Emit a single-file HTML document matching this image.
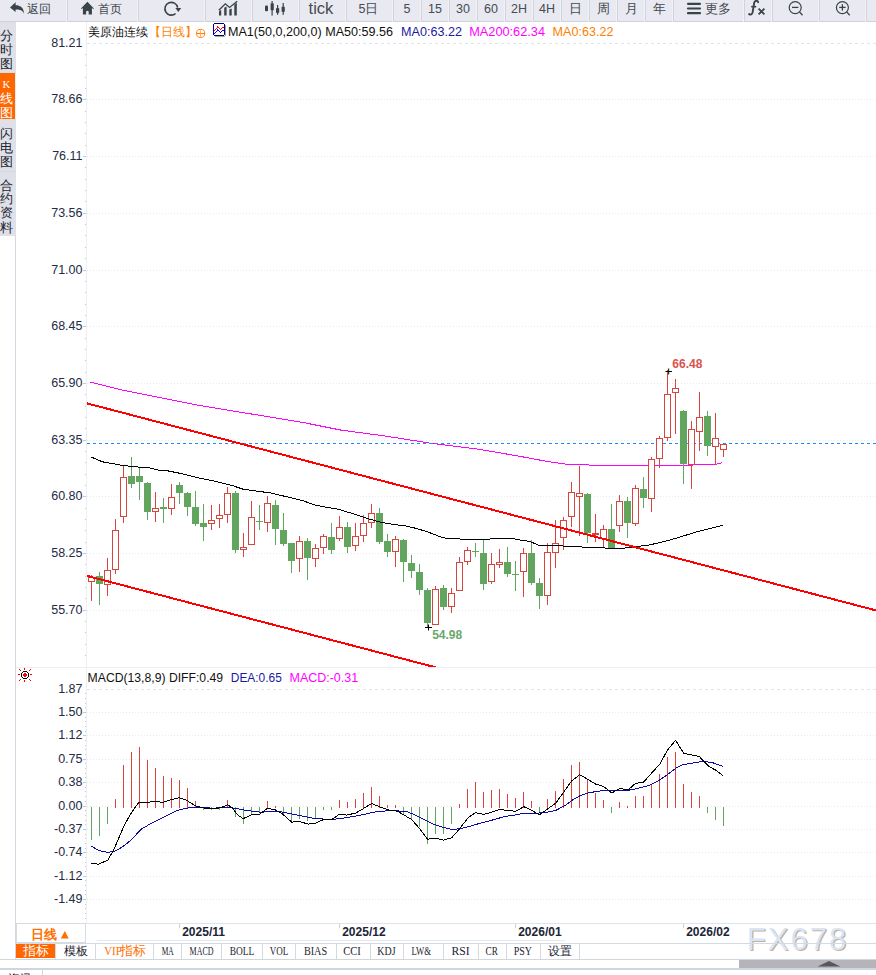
<!DOCTYPE html><html><head><meta charset="utf-8"><style>
*{margin:0;padding:0;box-sizing:border-box}
html,body{width:876px;height:975px;overflow:hidden;background:#fff;font-family:"Liberation Sans", sans-serif}
svg{position:absolute;left:0;top:0;display:block}
text{font-family:"Liberation Sans", sans-serif}
</style></head><body><svg width="876" height="975" viewBox="0 0 876 975"><rect x="0" y="0" width="876" height="21" fill="#e9e9f1"/><rect x="0" y="21" width="876" height="1" fill="#cfd0d8"/><rect x="67" y="0" width="1" height="22" fill="#d3d3dc"/><rect x="66" y="0" width="1" height="22" fill="#f1f1f6"/><rect x="138" y="0" width="1" height="22" fill="#d3d3dc"/><rect x="137" y="0" width="1" height="22" fill="#f1f1f6"/><rect x="205" y="0" width="1" height="22" fill="#d3d3dc"/><rect x="204" y="0" width="1" height="22" fill="#f1f1f6"/><rect x="252" y="0" width="1" height="22" fill="#d3d3dc"/><rect x="251" y="0" width="1" height="22" fill="#f1f1f6"/><rect x="299" y="0" width="1" height="22" fill="#d3d3dc"/><rect x="298" y="0" width="1" height="22" fill="#f1f1f6"/><rect x="346" y="0" width="1" height="22" fill="#d3d3dc"/><rect x="345" y="0" width="1" height="22" fill="#f1f1f6"/><rect x="393" y="0" width="1" height="22" fill="#d3d3dc"/><rect x="392" y="0" width="1" height="22" fill="#f1f1f6"/><rect x="421" y="0" width="1" height="22" fill="#d3d3dc"/><rect x="420" y="0" width="1" height="22" fill="#f1f1f6"/><rect x="449" y="0" width="1" height="22" fill="#d3d3dc"/><rect x="448" y="0" width="1" height="22" fill="#f1f1f6"/><rect x="477" y="0" width="1" height="22" fill="#d3d3dc"/><rect x="476" y="0" width="1" height="22" fill="#f1f1f6"/><rect x="505" y="0" width="1" height="22" fill="#d3d3dc"/><rect x="504" y="0" width="1" height="22" fill="#f1f1f6"/><rect x="533" y="0" width="1" height="22" fill="#d3d3dc"/><rect x="532" y="0" width="1" height="22" fill="#f1f1f6"/><rect x="561" y="0" width="1" height="22" fill="#d3d3dc"/><rect x="560" y="0" width="1" height="22" fill="#f1f1f6"/><rect x="589" y="0" width="1" height="22" fill="#d3d3dc"/><rect x="588" y="0" width="1" height="22" fill="#f1f1f6"/><rect x="617" y="0" width="1" height="22" fill="#d3d3dc"/><rect x="616" y="0" width="1" height="22" fill="#f1f1f6"/><rect x="645" y="0" width="1" height="22" fill="#d3d3dc"/><rect x="644" y="0" width="1" height="22" fill="#f1f1f6"/><rect x="673" y="0" width="1" height="22" fill="#d3d3dc"/><rect x="672" y="0" width="1" height="22" fill="#f1f1f6"/><rect x="744" y="0" width="1" height="22" fill="#d3d3dc"/><rect x="743" y="0" width="1" height="22" fill="#f1f1f6"/><rect x="772" y="0" width="1" height="22" fill="#d3d3dc"/><rect x="771" y="0" width="1" height="22" fill="#f1f1f6"/><rect x="819" y="0" width="1" height="22" fill="#d3d3dc"/><rect x="818" y="0" width="1" height="22" fill="#f1f1f6"/><rect x="866" y="0" width="1" height="22" fill="#d3d3dc"/><rect x="865" y="0" width="1" height="22" fill="#f1f1f6"/><path d="M10 7.4 L15.6 2.2 L15.6 5.2 C20.5 5.2 24 7.8 23.9 13.8 C22.9 11 21 9.6 15.6 9.6 L15.6 12 Z" fill="#3a424a"/><text x="26.5" y="13.3" font-size="12" fill="#3a424a">返回</text><path d="M80.9 8.4 L87.4 1.8 L93.9 8.4 L93.1 9.1 L91.9 8 L91.9 14.6 L88.7 14.6 L88.7 11.6 Q87.4 10 86.1 11.6 L86.1 14.6 L82.9 14.6 L82.9 8 L81.7 9.1 Z" fill="#3a424a"/><text x="97.5" y="13.3" font-size="12" fill="#3a424a">首页</text><path d="M177.6 7.6 A6.4 6.4 0 1 0 175.6 13.5" fill="none" stroke="#3a424a" stroke-width="1.6"/><path d="M175.4 7.9 L181.2 7.9 L178.3 11.9 Z" fill="#3a424a"/><g fill="#3a424a"><path d="M219 11.6 L221.2 9.8 L221.2 15.6 L219 15.6 Z"/><path d="M224.2 7.8 L226.6 6.6 L226.6 15.6 L224.2 15.6Z"/><path d="M229.3 9.6 L231.7 8.4 L231.7 15.6 L229.3 15.6Z"/><path d="M234.3 4.6 L236.8 2.8 L236.8 15.6 L234.3 15.6Z"/></g><path d="M218.8 10.3 L225.3 3.8 L229.6 7.4 L237.2 1.2" fill="none" stroke="#3a424a" stroke-width="1.3"/><g fill="#3a424a"><rect x="265" y="5.4" width="3" height="5.8" rx="1"/><rect x="271.5" y="1" width="1.2" height="14.6"/><rect x="270.6" y="3.4" width="3.2" height="6.8"/><rect x="277" y="5" width="1.2" height="9.8"/><rect x="276" y="8.2" width="3.2" height="4.6"/><rect x="282.6" y="3" width="1.2" height="11.8"/><rect x="281.6" y="6.8" width="3.2" height="5"/></g><text x="308.6" y="14.2" font-size="16.5" fill="#444b53">tick</text><text x="368.5" y="13.2" font-size="12.5" fill="#444b53" text-anchor="middle">5日</text><text x="407" y="13.2" font-size="12.5" fill="#444b53" text-anchor="middle">5</text><text x="435" y="13.2" font-size="12.5" fill="#444b53" text-anchor="middle">15</text><text x="463" y="13.2" font-size="12.5" fill="#444b53" text-anchor="middle">30</text><text x="491" y="13.2" font-size="12.5" fill="#444b53" text-anchor="middle">60</text><text x="519" y="13.2" font-size="12.5" fill="#444b53" text-anchor="middle">2H</text><text x="547" y="13.2" font-size="12.5" fill="#444b53" text-anchor="middle">4H</text><text x="575" y="13.2" font-size="12.5" fill="#444b53" text-anchor="middle">日</text><text x="603" y="13.2" font-size="12.5" fill="#444b53" text-anchor="middle">周</text><text x="631" y="13.2" font-size="12.5" fill="#444b53" text-anchor="middle">月</text><text x="659" y="13.2" font-size="12.5" fill="#444b53" text-anchor="middle">年</text><line x1="688" y1="3.8" x2="700" y2="3.8" stroke="#3a424a" stroke-width="2.2" stroke-linecap="round"/><line x1="688" y1="8.5" x2="700" y2="8.5" stroke="#3a424a" stroke-width="2.2" stroke-linecap="round"/><line x1="688" y1="13.2" x2="700" y2="13.2" stroke="#3a424a" stroke-width="2.2" stroke-linecap="round"/><text x="704.5" y="13.3" font-size="12.5" fill="#444b53">更多</text><path d="M758.2 2.2 C757.6 0.2 754.8 0.2 754.2 2.8 L752.6 12.4 C752.1 14.7 750.4 14.9 749.2 14.1" fill="none" stroke="#3a424a" stroke-width="1.9" stroke-linecap="round"/><path d="M751.2 6.7 H756.2" stroke="#3a424a" stroke-width="1.6"/><path d="M758.6 8.6 L764.4 14.4 M764.4 8.6 L758.6 14.4" stroke="#3a424a" stroke-width="1.8"/><circle cx="795.2" cy="7.6" r="6" fill="none" stroke="#3a424a" stroke-width="1.2"/><line x1="799.5" y1="11.9" x2="802.5" y2="15.2" stroke="#3a424a" stroke-width="1.3"/><line x1="792.0" y1="7.4" x2="798.4000000000001" y2="7.4" stroke="#3a424a" stroke-width="1.3"/><circle cx="842.4" cy="7.6" r="6" fill="none" stroke="#3a424a" stroke-width="1.2"/><line x1="846.6999999999999" y1="11.9" x2="849.6999999999999" y2="15.2" stroke="#3a424a" stroke-width="1.3"/><line x1="839.1999999999999" y1="7.4" x2="845.6" y2="7.4" stroke="#3a424a" stroke-width="1.3"/><line x1="842.4" y1="4.2" x2="842.4" y2="10.6" stroke="#3a424a" stroke-width="1.3"/><rect x="0" y="22" width="16" height="214" fill="#dfe0e8"/><rect x="0" y="73" width="15" height="46" fill="#ff6600"/><rect x="15" y="73" width="1" height="47" fill="#e4eef8"/><rect x="0" y="119" width="16" height="1" fill="#d4e0ec"/><rect x="0" y="72" width="16" height="1" fill="#d4dce6"/><rect x="0" y="171" width="16" height="1" fill="#d0d8e2"/><rect x="15" y="236" width="1" height="723" fill="#cfd7e0"/><text x="6.3" y="40.3" font-size="12.5" fill="#1c2533" text-anchor="middle" font-weight="500">分</text><text x="6.3" y="54.3" font-size="12.5" fill="#1c2533" text-anchor="middle" font-weight="500">时</text><text x="6.3" y="68.3" font-size="12.5" fill="#1c2533" text-anchor="middle" font-weight="500">图</text><text x="6.4" y="87.6" font-size="11" fill="#fff" text-anchor="middle" style="font-family:'Liberation Serif'">K</text><text x="6.3" y="102.8" font-size="12.5" fill="#fff" text-anchor="middle" font-weight="500">线</text><text x="6.3" y="116.8" font-size="12.5" fill="#fff" text-anchor="middle" font-weight="500">图</text><text x="6.3" y="137.6" font-size="12.5" fill="#1c2533" text-anchor="middle" font-weight="500">闪</text><text x="6.3" y="151.8" font-size="12.5" fill="#1c2533" text-anchor="middle" font-weight="500">电</text><text x="6.3" y="165.9" font-size="12.5" fill="#1c2533" text-anchor="middle" font-weight="500">图</text><text x="6.3" y="189.6" font-size="12.5" fill="#1c2533" text-anchor="middle" font-weight="500">合</text><text x="6.3" y="202.6" font-size="12.5" fill="#1c2533" text-anchor="middle" font-weight="500">约</text><text x="6.3" y="217.4" font-size="12.5" fill="#1c2533" text-anchor="middle" font-weight="500">资</text><text x="6.3" y="231.5" font-size="12.5" fill="#1c2533" text-anchor="middle" font-weight="500">料</text><rect x="86" y="22" width="1" height="901" fill="#ebeff3"/><rect x="16" y="667" width="860" height="1" fill="#ebeff3"/><line x1="87" y1="43.5" x2="876" y2="43.5" stroke="#dde4ec" stroke-width="1" stroke-dasharray="3 3"/><text x="82.5" y="46.6" font-size="12.5" fill="#232b45" text-anchor="end">81.21</text><rect x="85" y="54" width="1" height="1" fill="#c0c8d2"/><rect x="85" y="65" width="1" height="1" fill="#c0c8d2"/><rect x="85" y="77" width="1" height="1" fill="#c0c8d2"/><rect x="85" y="88" width="1" height="1" fill="#c0c8d2"/><line x1="87" y1="99.5" x2="876" y2="99.5" stroke="#e6ebf0" stroke-width="1" stroke-dasharray="1 2"/><rect x="83" y="99" width="3" height="1" fill="#c0c8d2"/><text x="82.5" y="102.6" font-size="12.5" fill="#232b45" text-anchor="end">78.66</text><rect x="85" y="111" width="1" height="1" fill="#c0c8d2"/><rect x="85" y="122" width="1" height="1" fill="#c0c8d2"/><rect x="85" y="133" width="1" height="1" fill="#c0c8d2"/><rect x="85" y="145" width="1" height="1" fill="#c0c8d2"/><line x1="87" y1="156.5" x2="876" y2="156.5" stroke="#e6ebf0" stroke-width="1" stroke-dasharray="1 2"/><rect x="83" y="156" width="3" height="1" fill="#c0c8d2"/><text x="82.5" y="159.6" font-size="12.5" fill="#232b45" text-anchor="end">76.11</text><rect x="85" y="167" width="1" height="1" fill="#c0c8d2"/><rect x="85" y="179" width="1" height="1" fill="#c0c8d2"/><rect x="85" y="190" width="1" height="1" fill="#c0c8d2"/><rect x="85" y="201" width="1" height="1" fill="#c0c8d2"/><line x1="87" y1="213.5" x2="876" y2="213.5" stroke="#e6ebf0" stroke-width="1" stroke-dasharray="1 2"/><rect x="83" y="213" width="3" height="1" fill="#c0c8d2"/><text x="82.5" y="216.6" font-size="12.5" fill="#232b45" text-anchor="end">73.56</text><rect x="85" y="224" width="1" height="1" fill="#c0c8d2"/><rect x="85" y="235" width="1" height="1" fill="#c0c8d2"/><rect x="85" y="247" width="1" height="1" fill="#c0c8d2"/><rect x="85" y="258" width="1" height="1" fill="#c0c8d2"/><line x1="87" y1="270.5" x2="876" y2="270.5" stroke="#e6ebf0" stroke-width="1" stroke-dasharray="1 2"/><rect x="83" y="270" width="3" height="1" fill="#c0c8d2"/><text x="82.5" y="273.6" font-size="12.5" fill="#232b45" text-anchor="end">71.00</text><rect x="85" y="281" width="1" height="1" fill="#c0c8d2"/><rect x="85" y="292" width="1" height="1" fill="#c0c8d2"/><rect x="85" y="304" width="1" height="1" fill="#c0c8d2"/><rect x="85" y="315" width="1" height="1" fill="#c0c8d2"/><line x1="87" y1="326.5" x2="876" y2="326.5" stroke="#e6ebf0" stroke-width="1" stroke-dasharray="1 2"/><rect x="83" y="326" width="3" height="1" fill="#c0c8d2"/><text x="82.5" y="329.6" font-size="12.5" fill="#232b45" text-anchor="end">68.45</text><rect x="85" y="338" width="1" height="1" fill="#c0c8d2"/><rect x="85" y="349" width="1" height="1" fill="#c0c8d2"/><rect x="85" y="360" width="1" height="1" fill="#c0c8d2"/><rect x="85" y="372" width="1" height="1" fill="#c0c8d2"/><line x1="87" y1="383.5" x2="876" y2="383.5" stroke="#e6ebf0" stroke-width="1" stroke-dasharray="1 2"/><rect x="83" y="383" width="3" height="1" fill="#c0c8d2"/><text x="82.5" y="386.6" font-size="12.5" fill="#232b45" text-anchor="end">65.90</text><rect x="85" y="394" width="1" height="1" fill="#c0c8d2"/><rect x="85" y="406" width="1" height="1" fill="#c0c8d2"/><rect x="85" y="417" width="1" height="1" fill="#c0c8d2"/><rect x="85" y="428" width="1" height="1" fill="#c0c8d2"/><line x1="87" y1="440.5" x2="876" y2="440.5" stroke="#e6ebf0" stroke-width="1" stroke-dasharray="1 2"/><rect x="83" y="440" width="3" height="1" fill="#c0c8d2"/><text x="82.5" y="443.6" font-size="12.5" fill="#232b45" text-anchor="end">63.35</text><rect x="85" y="451" width="1" height="1" fill="#c0c8d2"/><rect x="85" y="462" width="1" height="1" fill="#c0c8d2"/><rect x="85" y="474" width="1" height="1" fill="#c0c8d2"/><rect x="85" y="485" width="1" height="1" fill="#c0c8d2"/><line x1="87" y1="496.5" x2="876" y2="496.5" stroke="#e6ebf0" stroke-width="1" stroke-dasharray="1 2"/><rect x="83" y="496" width="3" height="1" fill="#c0c8d2"/><text x="82.5" y="499.6" font-size="12.5" fill="#232b45" text-anchor="end">60.80</text><rect x="85" y="508" width="1" height="1" fill="#c0c8d2"/><rect x="85" y="519" width="1" height="1" fill="#c0c8d2"/><rect x="85" y="530" width="1" height="1" fill="#c0c8d2"/><rect x="85" y="542" width="1" height="1" fill="#c0c8d2"/><line x1="87" y1="553.5" x2="876" y2="553.5" stroke="#e6ebf0" stroke-width="1" stroke-dasharray="1 2"/><rect x="83" y="553" width="3" height="1" fill="#c0c8d2"/><text x="82.5" y="556.6" font-size="12.5" fill="#232b45" text-anchor="end">58.25</text><rect x="85" y="564" width="1" height="1" fill="#c0c8d2"/><rect x="85" y="576" width="1" height="1" fill="#c0c8d2"/><rect x="85" y="587" width="1" height="1" fill="#c0c8d2"/><rect x="85" y="598" width="1" height="1" fill="#c0c8d2"/><line x1="87" y1="610.5" x2="876" y2="610.5" stroke="#e6ebf0" stroke-width="1" stroke-dasharray="1 2"/><rect x="83" y="610" width="3" height="1" fill="#c0c8d2"/><text x="82.5" y="613.6" font-size="12.5" fill="#232b45" text-anchor="end">55.70</text><rect x="85" y="621" width="1" height="1" fill="#c0c8d2"/><rect x="85" y="632" width="1" height="1" fill="#c0c8d2"/><rect x="85" y="644" width="1" height="1" fill="#c0c8d2"/><rect x="85" y="655" width="1" height="1" fill="#c0c8d2"/><defs><clipPath id="pc"><rect x="87" y="22" width="789" height="645"/></clipPath><clipPath id="mc"><rect x="87" y="668" width="789" height="255"/></clipPath></defs><g clip-path="url(#pc)"><polyline points="90.4,382 122.5,390.1 159,397.4 195.5,404.7 232,410.9 268.5,416.7 305,422.9 341.5,430.2 378,435 406,439.3 431,443.3 477.6,449.1 516.5,455.7 547.5,461.5 567,464.3 601.9,465.4 671.7,465.4 714.4,464.6 722.2,462.7" fill="none" stroke="#ff00ff" stroke-width="1" shape-rendering="crispEdges"/><line x1="87" y1="443.5" x2="876" y2="443.5" stroke="#1a8cff" stroke-width="1" stroke-dasharray="3 3"/><rect x="88.5" y="577.5" width="6" height="4" fill="#fff" stroke="#d6463e" stroke-width="1"/><rect x="91" y="575" width="1" height="2" fill="#d6463e"/><rect x="91" y="582" width="1" height="19" fill="#d6463e"/><rect x="99" y="572" width="1" height="33" fill="#61a55f"/><rect x="96" y="576" width="7" height="8" fill="#61a55f"/><rect x="104.5" y="570.5" width="6" height="14" fill="#fff" stroke="#d6463e" stroke-width="1"/><rect x="107" y="558" width="1" height="12" fill="#d6463e"/><rect x="107" y="585" width="1" height="11" fill="#d6463e"/><rect x="112.5" y="530.5" width="6" height="39" fill="#fff" stroke="#d6463e" stroke-width="1"/><rect x="115" y="519" width="1" height="11" fill="#d6463e"/><rect x="115" y="570" width="1" height="4" fill="#d6463e"/><rect x="120.5" y="477.5" width="6" height="39" fill="#fff" stroke="#d6463e" stroke-width="1"/><rect x="123" y="466" width="1" height="11" fill="#d6463e"/><rect x="123" y="517" width="1" height="6" fill="#d6463e"/><rect x="131" y="457" width="1" height="31" fill="#61a55f"/><rect x="128" y="476" width="7" height="8" fill="#61a55f"/><rect x="139" y="468" width="1" height="32" fill="#61a55f"/><rect x="136" y="476" width="7" height="6" fill="#61a55f"/><rect x="147" y="482" width="1" height="38" fill="#61a55f"/><rect x="144" y="483" width="7" height="29" fill="#61a55f"/><rect x="152.5" y="508.5" width="6" height="3" fill="#fff" stroke="#d6463e" stroke-width="1"/><rect x="155" y="492" width="1" height="16" fill="#d6463e"/><rect x="155" y="512" width="1" height="10" fill="#d6463e"/><rect x="163" y="498" width="1" height="25" fill="#61a55f"/><rect x="160" y="507" width="7" height="2" fill="#61a55f"/><rect x="168.5" y="497.5" width="6" height="11" fill="#fff" stroke="#d6463e" stroke-width="1"/><rect x="171" y="484" width="1" height="13" fill="#d6463e"/><rect x="171" y="509" width="1" height="6" fill="#d6463e"/><rect x="179" y="482" width="1" height="22" fill="#61a55f"/><rect x="176" y="485" width="7" height="8" fill="#61a55f"/><rect x="187" y="492" width="1" height="24" fill="#61a55f"/><rect x="184" y="493" width="7" height="14" fill="#61a55f"/><rect x="195" y="491" width="1" height="35" fill="#61a55f"/><rect x="192" y="507" width="7" height="17" fill="#61a55f"/><rect x="203" y="504" width="1" height="37" fill="#61a55f"/><rect x="200" y="523" width="7" height="4" fill="#61a55f"/><rect x="208.5" y="520.5" width="6" height="3" fill="#fff" stroke="#d6463e" stroke-width="1"/><rect x="211" y="505" width="1" height="15" fill="#d6463e"/><rect x="211" y="524" width="1" height="6" fill="#d6463e"/><rect x="216.5" y="515.5" width="6" height="3" fill="#fff" stroke="#d6463e" stroke-width="1"/><rect x="219" y="504" width="1" height="11" fill="#d6463e"/><rect x="219" y="519" width="1" height="9" fill="#d6463e"/><rect x="224.5" y="493.5" width="6" height="21" fill="#fff" stroke="#d6463e" stroke-width="1"/><rect x="227" y="487" width="1" height="6" fill="#d6463e"/><rect x="227" y="515" width="1" height="8" fill="#d6463e"/><rect x="235" y="491" width="1" height="62" fill="#61a55f"/><rect x="232" y="493" width="7" height="57" fill="#61a55f"/><rect x="240.5" y="547.5" width="6" height="2" fill="#fff" stroke="#d6463e" stroke-width="1"/><rect x="243" y="533" width="1" height="14" fill="#d6463e"/><rect x="243" y="550" width="1" height="7" fill="#d6463e"/><rect x="248.5" y="517.5" width="6" height="27" fill="#fff" stroke="#d6463e" stroke-width="1"/><rect x="251" y="501" width="1" height="16" fill="#d6463e"/><rect x="259" y="505" width="1" height="25" fill="#61a55f"/><rect x="256" y="521" width="7" height="1" fill="#61a55f"/><rect x="264.5" y="503.5" width="6" height="19" fill="#fff" stroke="#d6463e" stroke-width="1"/><rect x="267" y="496" width="1" height="7" fill="#d6463e"/><rect x="267" y="523" width="1" height="9" fill="#d6463e"/><rect x="275" y="500" width="1" height="45" fill="#61a55f"/><rect x="272" y="505" width="7" height="24" fill="#61a55f"/><rect x="283" y="513" width="1" height="33" fill="#61a55f"/><rect x="280" y="530" width="7" height="14" fill="#61a55f"/><rect x="291" y="543" width="1" height="30" fill="#61a55f"/><rect x="288" y="543" width="7" height="18" fill="#61a55f"/><rect x="296.5" y="541.5" width="6" height="17" fill="#fff" stroke="#d6463e" stroke-width="1"/><rect x="299" y="536" width="1" height="5" fill="#d6463e"/><rect x="299" y="559" width="1" height="13" fill="#d6463e"/><rect x="307" y="538" width="1" height="42" fill="#61a55f"/><rect x="304" y="541" width="7" height="17" fill="#61a55f"/><rect x="312.5" y="548.5" width="6" height="10" fill="#fff" stroke="#d6463e" stroke-width="1"/><rect x="315" y="544" width="1" height="4" fill="#d6463e"/><rect x="315" y="559" width="1" height="8" fill="#d6463e"/><rect x="320.5" y="536.5" width="6" height="11" fill="#fff" stroke="#d6463e" stroke-width="1"/><rect x="323" y="534" width="1" height="2" fill="#d6463e"/><rect x="323" y="548" width="1" height="6" fill="#d6463e"/><rect x="331" y="523" width="1" height="31" fill="#61a55f"/><rect x="328" y="537" width="7" height="13" fill="#61a55f"/><rect x="336.5" y="527.5" width="6" height="11" fill="#fff" stroke="#d6463e" stroke-width="1"/><rect x="339" y="516" width="1" height="11" fill="#d6463e"/><rect x="339" y="539" width="1" height="2" fill="#d6463e"/><rect x="347" y="522" width="1" height="31" fill="#61a55f"/><rect x="344" y="527" width="7" height="20" fill="#61a55f"/><rect x="352.5" y="536.5" width="6" height="9" fill="#fff" stroke="#d6463e" stroke-width="1"/><rect x="355" y="523" width="1" height="13" fill="#d6463e"/><rect x="355" y="546" width="1" height="5" fill="#d6463e"/><rect x="360.5" y="523.5" width="6" height="12" fill="#fff" stroke="#d6463e" stroke-width="1"/><rect x="363" y="515" width="1" height="8" fill="#d6463e"/><rect x="363" y="536" width="1" height="6" fill="#d6463e"/><rect x="368.5" y="513.5" width="6" height="9" fill="#fff" stroke="#d6463e" stroke-width="1"/><rect x="371" y="504" width="1" height="9" fill="#d6463e"/><rect x="371" y="523" width="1" height="5" fill="#d6463e"/><rect x="379" y="508" width="1" height="36" fill="#61a55f"/><rect x="376" y="513" width="7" height="29" fill="#61a55f"/><rect x="387" y="534" width="1" height="23" fill="#61a55f"/><rect x="384" y="541" width="7" height="11" fill="#61a55f"/><rect x="392.5" y="539.5" width="6" height="12" fill="#fff" stroke="#d6463e" stroke-width="1"/><rect x="395" y="536" width="1" height="3" fill="#d6463e"/><rect x="395" y="552" width="1" height="15" fill="#d6463e"/><rect x="403" y="539" width="1" height="43" fill="#61a55f"/><rect x="400" y="540" width="7" height="22" fill="#61a55f"/><rect x="411" y="555" width="1" height="23" fill="#61a55f"/><rect x="408" y="563" width="7" height="8" fill="#61a55f"/><rect x="419" y="564" width="1" height="31" fill="#61a55f"/><rect x="416" y="572" width="7" height="18" fill="#61a55f"/><rect x="427" y="588" width="1" height="39" fill="#61a55f"/><rect x="424" y="590" width="7" height="33" fill="#61a55f"/><rect x="432.5" y="589.5" width="6" height="35" fill="#fff" stroke="#d6463e" stroke-width="1"/><rect x="435" y="586" width="1" height="3" fill="#d6463e"/><rect x="443" y="585" width="1" height="25" fill="#61a55f"/><rect x="440" y="588" width="7" height="19" fill="#61a55f"/><rect x="448.5" y="593.5" width="6" height="13" fill="#fff" stroke="#d6463e" stroke-width="1"/><rect x="451" y="588" width="1" height="5" fill="#d6463e"/><rect x="451" y="607" width="1" height="6" fill="#d6463e"/><rect x="456.5" y="562.5" width="6" height="28" fill="#fff" stroke="#d6463e" stroke-width="1"/><rect x="459" y="557" width="1" height="5" fill="#d6463e"/><rect x="464.5" y="550.5" width="6" height="11" fill="#fff" stroke="#d6463e" stroke-width="1"/><rect x="467" y="547" width="1" height="3" fill="#d6463e"/><rect x="467" y="562" width="1" height="3" fill="#d6463e"/><rect x="475" y="543" width="1" height="14" fill="#61a55f"/><rect x="472" y="551" width="7" height="1" fill="#61a55f"/><rect x="483" y="540" width="1" height="50" fill="#61a55f"/><rect x="480" y="553" width="7" height="31" fill="#61a55f"/><rect x="488.5" y="564.5" width="6" height="17" fill="#fff" stroke="#d6463e" stroke-width="1"/><rect x="491" y="553" width="1" height="11" fill="#d6463e"/><rect x="491" y="582" width="1" height="2" fill="#d6463e"/><rect x="496.5" y="562.5" width="6" height="2" fill="#fff" stroke="#d6463e" stroke-width="1"/><rect x="499" y="549" width="1" height="13" fill="#d6463e"/><rect x="499" y="565" width="1" height="3" fill="#d6463e"/><rect x="507" y="547" width="1" height="30" fill="#61a55f"/><rect x="504" y="562" width="7" height="12" fill="#61a55f"/><rect x="515" y="561" width="1" height="30" fill="#61a55f"/><rect x="512" y="574" width="7" height="1" fill="#61a55f"/><rect x="520.5" y="553.5" width="6" height="18" fill="#fff" stroke="#d6463e" stroke-width="1"/><rect x="523" y="548" width="1" height="5" fill="#d6463e"/><rect x="523" y="572" width="1" height="25" fill="#d6463e"/><rect x="531" y="540" width="1" height="45" fill="#61a55f"/><rect x="528" y="553" width="7" height="30" fill="#61a55f"/><rect x="539" y="578" width="1" height="31" fill="#61a55f"/><rect x="536" y="583" width="7" height="13" fill="#61a55f"/><rect x="544.5" y="552.5" width="6" height="43" fill="#fff" stroke="#d6463e" stroke-width="1"/><rect x="547" y="543" width="1" height="9" fill="#d6463e"/><rect x="547" y="596" width="1" height="9" fill="#d6463e"/><rect x="552.5" y="543.5" width="6" height="9" fill="#fff" stroke="#d6463e" stroke-width="1"/><rect x="555" y="520" width="1" height="23" fill="#d6463e"/><rect x="555" y="553" width="1" height="15" fill="#d6463e"/><rect x="560.5" y="520.5" width="6" height="17" fill="#fff" stroke="#d6463e" stroke-width="1"/><rect x="563" y="517" width="1" height="3" fill="#d6463e"/><rect x="563" y="538" width="1" height="12" fill="#d6463e"/><rect x="568.5" y="492.5" width="6" height="24" fill="#fff" stroke="#d6463e" stroke-width="1"/><rect x="571" y="482" width="1" height="10" fill="#d6463e"/><rect x="571" y="517" width="1" height="10" fill="#d6463e"/><rect x="576.5" y="493.5" width="6" height="3" fill="#fff" stroke="#d6463e" stroke-width="1"/><rect x="579" y="466" width="1" height="27" fill="#d6463e"/><rect x="579" y="497" width="1" height="39" fill="#d6463e"/><rect x="587" y="493" width="1" height="50" fill="#61a55f"/><rect x="584" y="494" width="7" height="39" fill="#61a55f"/><rect x="592" y="533" width="7" height="2" fill="#d6463e"/><rect x="595" y="514" width="1" height="19" fill="#d6463e"/><rect x="595" y="535" width="1" height="7" fill="#d6463e"/><rect x="600.5" y="529.5" width="6" height="9" fill="#fff" stroke="#d6463e" stroke-width="1"/><rect x="603" y="525" width="1" height="4" fill="#d6463e"/><rect x="603" y="539" width="1" height="8" fill="#d6463e"/><rect x="611" y="504" width="1" height="44" fill="#61a55f"/><rect x="608" y="529" width="7" height="19" fill="#61a55f"/><rect x="616.5" y="501.5" width="6" height="24" fill="#fff" stroke="#d6463e" stroke-width="1"/><rect x="619" y="495" width="1" height="6" fill="#d6463e"/><rect x="619" y="526" width="1" height="6" fill="#d6463e"/><rect x="627" y="497" width="1" height="41" fill="#61a55f"/><rect x="624" y="501" width="7" height="22" fill="#61a55f"/><rect x="632.5" y="488.5" width="6" height="35" fill="#fff" stroke="#d6463e" stroke-width="1"/><rect x="635" y="485" width="1" height="3" fill="#d6463e"/><rect x="635" y="524" width="1" height="2" fill="#d6463e"/><rect x="643" y="477" width="1" height="31" fill="#61a55f"/><rect x="640" y="489" width="7" height="9" fill="#61a55f"/><rect x="648.5" y="459.5" width="6" height="39" fill="#fff" stroke="#d6463e" stroke-width="1"/><rect x="651" y="457" width="1" height="2" fill="#d6463e"/><rect x="651" y="499" width="1" height="13" fill="#d6463e"/><rect x="656.5" y="438.5" width="6" height="20" fill="#fff" stroke="#d6463e" stroke-width="1"/><rect x="659" y="436" width="1" height="2" fill="#d6463e"/><rect x="659" y="459" width="1" height="9" fill="#d6463e"/><rect x="664.5" y="394.5" width="6" height="43" fill="#fff" stroke="#d6463e" stroke-width="1"/><rect x="667" y="370" width="1" height="24" fill="#d6463e"/><rect x="667" y="438" width="1" height="3" fill="#d6463e"/><rect x="672.5" y="388.5" width="6" height="4" fill="#fff" stroke="#d6463e" stroke-width="1"/><rect x="675" y="379" width="1" height="9" fill="#d6463e"/><rect x="675" y="393" width="1" height="41" fill="#d6463e"/><rect x="683" y="410" width="1" height="74" fill="#61a55f"/><rect x="680" y="411" width="7" height="53" fill="#61a55f"/><rect x="688.5" y="429.5" width="6" height="35" fill="#fff" stroke="#d6463e" stroke-width="1"/><rect x="691" y="421" width="1" height="8" fill="#d6463e"/><rect x="691" y="465" width="1" height="24" fill="#d6463e"/><rect x="696.5" y="417.5" width="6" height="14" fill="#fff" stroke="#d6463e" stroke-width="1"/><rect x="699" y="392" width="1" height="25" fill="#d6463e"/><rect x="699" y="432" width="1" height="19" fill="#d6463e"/><rect x="707" y="411" width="1" height="45" fill="#61a55f"/><rect x="704" y="416" width="7" height="30" fill="#61a55f"/><rect x="712.5" y="438.5" width="6" height="8" fill="#fff" stroke="#d6463e" stroke-width="1"/><rect x="715" y="413" width="1" height="25" fill="#d6463e"/><rect x="715" y="447" width="1" height="18" fill="#d6463e"/><rect x="720.5" y="444.5" width="6" height="5" fill="#fff" stroke="#d6463e" stroke-width="1"/><rect x="723" y="450" width="1" height="7" fill="#d6463e"/><polyline points="91,456.9 102.4,461.8 123.7,465.6 140,467.2 148.3,467.6 158,470 166,470.5 182.4,473.8 198.8,477.9 215.2,481.2 231.6,485.3 243,489.2 254.2,490.7 270.6,493 287,496.8 303.4,500.9 314.9,505 325,507 339.1,509.4 350.6,513 367,518.4 378.5,521.7 391.6,524.2 404.7,525.8 414.2,527.9 425.7,531.2 442,537.4 448.6,538.6 471.6,539.4 486,539.6 494.2,538.3 510.6,538.3 520.4,540 530.3,541.6 538.5,545.1 551.6,545.4 566,546.2 584,547.1 608.9,548.2 624,548.2 639.3,546.2 645.8,545.6 654.5,543.8 669.6,540.1 680.5,536.9 697.8,531.5 710.9,528.2 722.8,525.4" fill="none" stroke="#000" stroke-width="1" shape-rendering="crispEdges"/><line x1="86" y1="403.1" x2="876" y2="610.4" stroke="#ff0000" stroke-width="2" shape-rendering="crispEdges"/><line x1="86" y1="575.6" x2="876" y2="782.9" stroke="#ff0000" stroke-width="2" shape-rendering="crispEdges"/><path d="M665.5 371.5 H672 M668.7 368.5 V374.5" stroke="#000" stroke-width="1"/><path d="M425 627.5 H432 M428.5 624.5 V630.5" stroke="#000" stroke-width="1"/><text x="672.3" y="368" font-size="12" font-weight="bold" fill="#d9534f">66.48</text><text x="432.2" y="639.3" font-size="12" font-weight="bold" fill="#6aa86a">54.98</text></g><text x="88" y="36" font-size="12" fill="#111" font-weight="500">美原油连续</text><text x="149" y="36" font-size="12" fill="#ff7f00">【日线】</text><circle cx="200.6" cy="33.4" r="4.1" fill="none" stroke="#ff7f00" stroke-width="0.95"/><path d="M196.4 33.5 H204.8" stroke="#ff7f00" stroke-width="1.1"/><path d="M200.5 29.4 V37.4" stroke="#ff9a30" stroke-width="0.7"/><rect x="214" y="23" width="10" height="1" fill="#000080"/><rect x="214" y="35" width="10" height="1" fill="#000080"/><rect x="213" y="24" width="1" height="11" fill="#000080"/><rect x="224" y="24" width="1" height="11" fill="#000080"/><rect x="214" y="24" width="10" height="11" fill="#fff"/><rect x="225" y="25" width="1" height="11" fill="#a8a898"/><rect x="215" y="36" width="10" height="1" fill="#a8a898"/><rect x="214" y="30" width="1" height="1" fill="#ff0000"/><rect x="215" y="29" width="1" height="1" fill="#ff0000"/><rect x="216" y="28" width="1" height="1" fill="#ff0000"/><rect x="217" y="26" width="1" height="1" fill="#ff0000"/><rect x="217" y="27" width="1" height="1" fill="#ff0000"/><rect x="218" y="27" width="1" height="1" fill="#ff0000"/><rect x="219" y="28" width="1" height="1" fill="#ff0000"/><rect x="220" y="29" width="1" height="1" fill="#ff0000"/><rect x="221" y="28" width="1" height="1" fill="#ff0000"/><rect x="222" y="27" width="1" height="1" fill="#ff0000"/><rect x="223" y="27" width="1" height="1" fill="#ff0000"/><rect x="214" y="33" width="1" height="1" fill="#0000ff"/><rect x="215" y="32" width="1" height="1" fill="#0000ff"/><rect x="216" y="31" width="1" height="1" fill="#0000ff"/><rect x="217" y="29" width="1" height="1" fill="#0000ff"/><rect x="217" y="30" width="1" height="1" fill="#0000ff"/><rect x="218" y="30" width="1" height="1" fill="#0000ff"/><rect x="219" y="31" width="1" height="1" fill="#0000ff"/><rect x="220" y="32" width="1" height="1" fill="#0000ff"/><rect x="221" y="31" width="1" height="1" fill="#0000ff"/><rect x="222" y="30" width="1" height="1" fill="#0000ff"/><rect x="223" y="30" width="1" height="1" fill="#0000ff"/><text x="228" y="36" font-size="12" fill="#111" textLength="165" lengthAdjust="spacingAndGlyphs">MA1(50,0,200,0) MA50:59.56</text><text x="401" y="36" font-size="12" fill="#1a1aa0" textLength="61" lengthAdjust="spacingAndGlyphs">MA0:63.22</text><text x="469.2" y="36" font-size="12" fill="#ff00ff" textLength="75.8" lengthAdjust="spacingAndGlyphs">MA200:62.34</text><text x="552.5" y="36" font-size="12" fill="#ff8000" textLength="61" lengthAdjust="spacingAndGlyphs">MA0:63.22</text><line x1="87" y1="689.5" x2="876" y2="689.5" stroke="#dde4ec" stroke-width="1" stroke-dasharray="3 3"/><text x="82.5" y="692.6" font-size="12.5" fill="#232b45" text-anchor="end">1.87</text><rect x="85" y="693" width="1" height="1" fill="#c0c8d2"/><rect x="85" y="698" width="1" height="1" fill="#c0c8d2"/><rect x="85" y="703" width="1" height="1" fill="#c0c8d2"/><rect x="85" y="707" width="1" height="1" fill="#c0c8d2"/><line x1="87" y1="712.5" x2="876" y2="712.5" stroke="#e6ebf0" stroke-width="1" stroke-dasharray="1 2"/><rect x="83" y="712" width="3" height="1" fill="#c0c8d2"/><text x="82.5" y="715.6" font-size="12.5" fill="#232b45" text-anchor="end">1.50</text><rect x="85" y="717" width="1" height="1" fill="#c0c8d2"/><rect x="85" y="721" width="1" height="1" fill="#c0c8d2"/><rect x="85" y="726" width="1" height="1" fill="#c0c8d2"/><rect x="85" y="731" width="1" height="1" fill="#c0c8d2"/><line x1="87" y1="735.5" x2="876" y2="735.5" stroke="#e6ebf0" stroke-width="1" stroke-dasharray="1 2"/><rect x="83" y="735" width="3" height="1" fill="#c0c8d2"/><text x="82.5" y="738.6" font-size="12.5" fill="#232b45" text-anchor="end">1.12</text><rect x="85" y="740" width="1" height="1" fill="#c0c8d2"/><rect x="85" y="745" width="1" height="1" fill="#c0c8d2"/><rect x="85" y="749" width="1" height="1" fill="#c0c8d2"/><rect x="85" y="754" width="1" height="1" fill="#c0c8d2"/><line x1="87" y1="759.5" x2="876" y2="759.5" stroke="#e6ebf0" stroke-width="1" stroke-dasharray="1 2"/><rect x="83" y="759" width="3" height="1" fill="#c0c8d2"/><text x="82.5" y="762.6" font-size="12.5" fill="#232b45" text-anchor="end">0.75</text><rect x="85" y="763" width="1" height="1" fill="#c0c8d2"/><rect x="85" y="768" width="1" height="1" fill="#c0c8d2"/><rect x="85" y="773" width="1" height="1" fill="#c0c8d2"/><rect x="85" y="777" width="1" height="1" fill="#c0c8d2"/><line x1="87" y1="782.5" x2="876" y2="782.5" stroke="#e6ebf0" stroke-width="1" stroke-dasharray="1 2"/><rect x="83" y="782" width="3" height="1" fill="#c0c8d2"/><text x="82.5" y="785.6" font-size="12.5" fill="#232b45" text-anchor="end">0.38</text><rect x="85" y="787" width="1" height="1" fill="#c0c8d2"/><rect x="85" y="791" width="1" height="1" fill="#c0c8d2"/><rect x="85" y="796" width="1" height="1" fill="#c0c8d2"/><rect x="85" y="801" width="1" height="1" fill="#c0c8d2"/><line x1="87" y1="806.5" x2="876" y2="806.5" stroke="#e6ebf0" stroke-width="1" stroke-dasharray="1 2"/><rect x="83" y="806" width="3" height="1" fill="#c0c8d2"/><text x="82.5" y="809.6" font-size="12.5" fill="#232b45" text-anchor="end">0.00</text><rect x="85" y="810" width="1" height="1" fill="#c0c8d2"/><rect x="85" y="815" width="1" height="1" fill="#c0c8d2"/><rect x="85" y="820" width="1" height="1" fill="#c0c8d2"/><rect x="85" y="824" width="1" height="1" fill="#c0c8d2"/><line x1="87" y1="829.5" x2="876" y2="829.5" stroke="#e6ebf0" stroke-width="1" stroke-dasharray="1 2"/><rect x="83" y="829" width="3" height="1" fill="#c0c8d2"/><text x="82.5" y="832.6" font-size="12.5" fill="#232b45" text-anchor="end">-0.37</text><rect x="85" y="834" width="1" height="1" fill="#c0c8d2"/><rect x="85" y="838" width="1" height="1" fill="#c0c8d2"/><rect x="85" y="843" width="1" height="1" fill="#c0c8d2"/><rect x="85" y="848" width="1" height="1" fill="#c0c8d2"/><line x1="87" y1="852.5" x2="876" y2="852.5" stroke="#e6ebf0" stroke-width="1" stroke-dasharray="1 2"/><rect x="83" y="852" width="3" height="1" fill="#c0c8d2"/><text x="82.5" y="855.6" font-size="12.5" fill="#232b45" text-anchor="end">-0.74</text><rect x="85" y="857" width="1" height="1" fill="#c0c8d2"/><rect x="85" y="862" width="1" height="1" fill="#c0c8d2"/><rect x="85" y="866" width="1" height="1" fill="#c0c8d2"/><rect x="85" y="871" width="1" height="1" fill="#c0c8d2"/><line x1="87" y1="876.5" x2="876" y2="876.5" stroke="#e6ebf0" stroke-width="1" stroke-dasharray="1 2"/><rect x="83" y="876" width="3" height="1" fill="#c0c8d2"/><text x="82.5" y="879.6" font-size="12.5" fill="#232b45" text-anchor="end">-1.12</text><rect x="85" y="880" width="1" height="1" fill="#c0c8d2"/><rect x="85" y="885" width="1" height="1" fill="#c0c8d2"/><rect x="85" y="890" width="1" height="1" fill="#c0c8d2"/><rect x="85" y="894" width="1" height="1" fill="#c0c8d2"/><line x1="87" y1="899.5" x2="876" y2="899.5" stroke="#e6ebf0" stroke-width="1" stroke-dasharray="1 2"/><rect x="83" y="899" width="3" height="1" fill="#c0c8d2"/><text x="82.5" y="902.6" font-size="12.5" fill="#232b45" text-anchor="end">-1.49</text><rect x="85" y="904" width="1" height="1" fill="#c0c8d2"/><rect x="85" y="908" width="1" height="1" fill="#c0c8d2"/><rect x="85" y="913" width="1" height="1" fill="#c0c8d2"/><rect x="85" y="918" width="1" height="1" fill="#c0c8d2"/><g clip-path="url(#mc)"><rect x="91" y="807" width="1" height="33" fill="#61a55f"/><rect x="99" y="807" width="1" height="29" fill="#61a55f"/><rect x="107" y="807" width="1" height="17" fill="#61a55f"/><rect x="115" y="799" width="1" height="9" fill="#d6463e"/><rect x="123" y="765" width="1" height="43" fill="#d6463e"/><rect x="131" y="752" width="1" height="56" fill="#d6463e"/><rect x="139" y="747" width="1" height="61" fill="#d6463e"/><rect x="147" y="760" width="1" height="48" fill="#d6463e"/><rect x="155" y="768" width="1" height="40" fill="#d6463e"/><rect x="163" y="776" width="1" height="32" fill="#d6463e"/><rect x="171" y="778" width="1" height="30" fill="#d6463e"/><rect x="179" y="780" width="1" height="28" fill="#d6463e"/><rect x="187" y="788" width="1" height="20" fill="#d6463e"/><rect x="195" y="801" width="1" height="7" fill="#d6463e"/><rect x="203" y="807" width="1" height="3" fill="#61a55f"/><rect x="211" y="807" width="1" height="3" fill="#61a55f"/><rect x="219" y="807" width="1" height="3" fill="#61a55f"/><rect x="227" y="800" width="1" height="8" fill="#d6463e"/><rect x="235" y="807" width="1" height="10" fill="#61a55f"/><rect x="243" y="807" width="1" height="17" fill="#61a55f"/><rect x="251" y="807" width="1" height="8" fill="#61a55f"/><rect x="259" y="807" width="1" height="6" fill="#61a55f"/><rect x="267" y="801" width="1" height="7" fill="#d6463e"/><rect x="275" y="806" width="1" height="2" fill="#d6463e"/><rect x="283" y="807" width="1" height="7" fill="#61a55f"/><rect x="291" y="807" width="1" height="15" fill="#61a55f"/><rect x="299" y="807" width="1" height="12" fill="#61a55f"/><rect x="307" y="807" width="1" height="14" fill="#61a55f"/><rect x="315" y="807" width="1" height="11" fill="#61a55f"/><rect x="323" y="807" width="1" height="3" fill="#61a55f"/><rect x="331" y="807" width="1" height="3" fill="#61a55f"/><rect x="339" y="800" width="1" height="8" fill="#d6463e"/><rect x="347" y="802" width="1" height="6" fill="#d6463e"/><rect x="355" y="799" width="1" height="9" fill="#d6463e"/><rect x="363" y="793" width="1" height="15" fill="#d6463e"/><rect x="371" y="787" width="1" height="21" fill="#d6463e"/><rect x="379" y="796" width="1" height="12" fill="#d6463e"/><rect x="387" y="805" width="1" height="3" fill="#d6463e"/><rect x="395" y="805" width="1" height="3" fill="#d6463e"/><rect x="403" y="807" width="1" height="8" fill="#61a55f"/><rect x="411" y="807" width="1" height="13" fill="#61a55f"/><rect x="419" y="807" width="1" height="20" fill="#61a55f"/><rect x="427" y="807" width="1" height="37" fill="#61a55f"/><rect x="435" y="807" width="1" height="27" fill="#61a55f"/><rect x="443" y="807" width="1" height="27" fill="#61a55f"/><rect x="451" y="807" width="1" height="17" fill="#61a55f"/><rect x="459" y="804" width="1" height="4" fill="#d6463e"/><rect x="467" y="789" width="1" height="19" fill="#d6463e"/><rect x="475" y="782" width="1" height="26" fill="#d6463e"/><rect x="483" y="792" width="1" height="16" fill="#d6463e"/><rect x="491" y="790" width="1" height="18" fill="#d6463e"/><rect x="499" y="789" width="1" height="19" fill="#d6463e"/><rect x="507" y="794" width="1" height="14" fill="#d6463e"/><rect x="515" y="798" width="1" height="10" fill="#d6463e"/><rect x="523" y="792" width="1" height="16" fill="#d6463e"/><rect x="531" y="801" width="1" height="7" fill="#d6463e"/><rect x="539" y="807" width="1" height="5" fill="#61a55f"/><rect x="547" y="799" width="1" height="9" fill="#d6463e"/><rect x="555" y="791" width="1" height="17" fill="#d6463e"/><rect x="563" y="779" width="1" height="29" fill="#d6463e"/><rect x="571" y="765" width="1" height="43" fill="#d6463e"/><rect x="579" y="762" width="1" height="46" fill="#d6463e"/><rect x="587" y="780" width="1" height="28" fill="#d6463e"/><rect x="595" y="793" width="1" height="15" fill="#d6463e"/><rect x="603" y="800" width="1" height="8" fill="#d6463e"/><rect x="611" y="807" width="1" height="6" fill="#61a55f"/><rect x="619" y="802" width="1" height="6" fill="#d6463e"/><rect x="627" y="806" width="1" height="2" fill="#d6463e"/><rect x="635" y="796" width="1" height="12" fill="#d6463e"/><rect x="643" y="796" width="1" height="12" fill="#d6463e"/><rect x="651" y="785" width="1" height="23" fill="#d6463e"/><rect x="659" y="774" width="1" height="34" fill="#d6463e"/><rect x="667" y="757" width="1" height="51" fill="#d6463e"/><rect x="675" y="752" width="1" height="56" fill="#d6463e"/><rect x="683" y="784" width="1" height="24" fill="#d6463e"/><rect x="691" y="792" width="1" height="16" fill="#d6463e"/><rect x="699" y="796" width="1" height="12" fill="#d6463e"/><rect x="707" y="807" width="1" height="6" fill="#61a55f"/><rect x="715" y="807" width="1" height="13" fill="#61a55f"/><rect x="723" y="807" width="1" height="19" fill="#61a55f"/><polyline points="91,846 98.8,850.5 107.9,852.4 115.2,850.9 122.5,846.9 131.7,839.6 140.8,829.5 149.9,824.1 159.1,819.5 168.2,814.9 177.3,810.4 186.5,808.2 195.6,807.3 213.9,808.2 228.5,807.1 246,810.4 260.6,812.2 278.9,811.3 291.7,814 315.4,818.6 331.8,819.5 346.5,817.7 364.7,814.4 377.5,811.3 392.1,810.7 406,811.3 415.1,814.9 424.3,819.5 433.4,824.1 442.5,827.2 451.7,829.5 460.8,828.6 469.9,826.4 479.1,823.5 488.2,821.3 497.3,818.6 506.5,816.2 515.6,814.9 524.7,813.1 537.5,813.1 544.8,812.6 555.8,810.4 566,804.9 573.3,799.4 580.6,795.4 587.9,793 595.2,791.7 604.4,790.3 615.3,790.3 628.1,790.3 639.1,788.1 650,785.2 659.2,780.2 666.5,775.3 675.6,768.4 682.9,764.7 693.9,762.9 703,761.4 712.1,762.5 723.1,766.5" fill="none" stroke="#0a0a9e" stroke-width="1" shape-rendering="crispEdges"/><polyline points="91,863.3 98.8,864.2 107.9,860 113.4,850.5 118.9,837.8 124.4,825 131.7,812.2 139,802.1 146.3,802.5 155.4,801.2 162.7,802.5 170,800 179.2,797.6 186.5,800.3 195.6,805.8 204.7,808.2 213.9,808.9 221.2,807.6 227.6,804.9 232.1,807.6 237.6,814.9 243.1,818.6 251.5,814.9 259.7,814 267.6,808.2 275.2,809.8 282.5,814 291.7,822.2 299,821.3 308.1,824.1 315.4,823.2 322.7,819.9 331.8,819.5 339.2,814.4 346.5,815.1 355.6,813.1 362.9,808.9 371.7,803.4 379.3,806.7 388.5,810 397.6,811.3 406,816.2 411.5,819.5 419.7,828.6 427.6,839.2 435.2,838.1 443.4,840.1 451.7,837.8 459,829.5 468.1,817.7 475.4,812.6 483.6,814.4 491.8,812.2 499.2,809.5 507.4,810.4 515.6,811.3 523.8,806.7 532,810.4 539.3,814.9 547.6,808.9 555.8,803.1 563.1,793 571.5,781.1 579.7,774.7 587.9,779.3 595.2,783.9 603.4,786.3 611.7,793 619.9,788.4 628.1,789.9 635.4,783.5 643.6,782.1 651.8,772.9 660.1,763.8 667.4,750.1 675.6,740.4 683.8,753.4 692,755 699.3,756.5 708.5,766.2 715.8,770.2 723.1,775.7" fill="none" stroke="#000" stroke-width="1" shape-rendering="crispEdges"/></g><rect x="23" y="671" width="1" height="1" fill="#000"/><rect x="23" y="678" width="1" height="1" fill="#000"/><rect x="24" y="671" width="1" height="1" fill="#000"/><rect x="24" y="678" width="1" height="1" fill="#000"/><rect x="25" y="671" width="1" height="1" fill="#000"/><rect x="25" y="678" width="1" height="1" fill="#000"/><rect x="26" y="671" width="1" height="1" fill="#000"/><rect x="26" y="678" width="1" height="1" fill="#000"/><rect x="21" y="673" width="1" height="1" fill="#000"/><rect x="28" y="673" width="1" height="1" fill="#000"/><rect x="21" y="674" width="1" height="1" fill="#000"/><rect x="28" y="674" width="1" height="1" fill="#000"/><rect x="21" y="675" width="1" height="1" fill="#000"/><rect x="28" y="675" width="1" height="1" fill="#000"/><rect x="21" y="676" width="1" height="1" fill="#000"/><rect x="28" y="676" width="1" height="1" fill="#000"/><rect x="22" y="672" width="1" height="1" fill="#000"/><rect x="27" y="672" width="1" height="1" fill="#000"/><rect x="22" y="677" width="1" height="1" fill="#000"/><rect x="27" y="677" width="1" height="1" fill="#000"/><rect x="23" y="674" width="1" height="1" fill="#ff0000"/><rect x="23" y="675" width="1" height="1" fill="#ff0000"/><rect x="24" y="673" width="1" height="1" fill="#ff0000"/><rect x="24" y="674" width="1" height="1" fill="#ff0000"/><rect x="24" y="675" width="1" height="1" fill="#ff0000"/><rect x="24" y="676" width="1" height="1" fill="#ff0000"/><rect x="25" y="673" width="1" height="1" fill="#ff0000"/><rect x="25" y="674" width="1" height="1" fill="#ff0000"/><rect x="25" y="675" width="1" height="1" fill="#ff0000"/><rect x="25" y="676" width="1" height="1" fill="#ff0000"/><rect x="26" y="674" width="1" height="1" fill="#ff0000"/><rect x="26" y="675" width="1" height="1" fill="#ff0000"/><rect x="24" y="668" width="1" height="1" fill="#f00"/><rect x="24" y="669" width="1" height="1" fill="#f00"/><rect x="24" y="680" width="1" height="1" fill="#f00"/><rect x="24" y="681" width="1" height="1" fill="#f00"/><rect x="18" y="674" width="1" height="1" fill="#f00"/><rect x="19" y="674" width="1" height="1" fill="#f00"/><rect x="30" y="674" width="1" height="1" fill="#f00"/><rect x="31" y="674" width="1" height="1" fill="#f00"/><rect x="19" y="669" width="1" height="1" fill="#f00"/><rect x="20" y="670" width="1" height="1" fill="#f00"/><rect x="30" y="669" width="1" height="1" fill="#f00"/><rect x="29" y="670" width="1" height="1" fill="#f00"/><rect x="20" y="679" width="1" height="1" fill="#f00"/><rect x="19" y="680" width="1" height="1" fill="#f00"/><rect x="29" y="679" width="1" height="1" fill="#f00"/><rect x="30" y="680" width="1" height="1" fill="#f00"/><text x="87.6" y="682" font-size="12" fill="#111" textLength="135.5" lengthAdjust="spacingAndGlyphs">MACD(13,8,9) DIFF:0.49</text><text x="230.8" y="682" font-size="12" fill="#1a1aa0" textLength="51" lengthAdjust="spacingAndGlyphs">DEA:0.65</text><text x="289.5" y="682" font-size="12" fill="#ff00ff" textLength="68.6" lengthAdjust="spacingAndGlyphs">MACD:-0.31</text><rect x="16" y="923" width="860" height="1" fill="#dde3ea"/><rect x="179" y="924" width="1" height="4" fill="#c8d0d8"/><text x="182.2" y="936" font-size="12" font-weight="bold" fill="#1c2438">2025/11</text><rect x="339" y="924" width="1" height="4" fill="#c8d0d8"/><text x="342.2" y="936" font-size="12" font-weight="bold" fill="#1c2438">2025/12</text><rect x="515" y="924" width="1" height="4" fill="#c8d0d8"/><text x="518.2" y="936" font-size="12" font-weight="bold" fill="#1c2438">2026/01</text><rect x="683" y="924" width="1" height="4" fill="#c8d0d8"/><text x="686.2" y="936" font-size="12" font-weight="bold" fill="#1c2438">2026/02</text><rect x="97" y="940" width="468" height="1" fill="#e6eaef"/><rect x="16.5" y="923.5" width="69" height="19" fill="#fff" stroke="#d6dce4" stroke-width="1"/><text x="30.5" y="938.5" font-size="12.5" font-weight="bold" fill="#ff7000">日线</text><path d="M60.8 938.5 L64.8 931 L68.8 938.5 Z" fill="#ff7000"/><text x="748.1" y="951.2" font-size="31" fill="#bfa083" fill-opacity="0.85" letter-spacing="2.0">FX678</text><text x="746.8" y="949.9" font-size="31" fill="#d6e6f8" letter-spacing="2.0">FX678</text><rect x="16" y="943" width="860" height="1" fill="#d4dae2"/><rect x="0" y="959" width="876" height="1" fill="#d0d6de"/><rect x="16" y="944" width="39" height="14" fill="#ff6600"/><rect x="95" y="944" width="1" height="15" fill="#d4dae2"/><rect x="153" y="944" width="1" height="15" fill="#d4dae2"/><rect x="181" y="944" width="1" height="15" fill="#d4dae2"/><rect x="221" y="944" width="1" height="15" fill="#d4dae2"/><rect x="262" y="944" width="1" height="15" fill="#d4dae2"/><rect x="295" y="944" width="1" height="15" fill="#d4dae2"/><rect x="336" y="944" width="1" height="15" fill="#d4dae2"/><rect x="370" y="944" width="1" height="15" fill="#d4dae2"/><rect x="403" y="944" width="1" height="15" fill="#d4dae2"/><rect x="443" y="944" width="1" height="15" fill="#d4dae2"/><rect x="478" y="944" width="1" height="15" fill="#d4dae2"/><rect x="506" y="944" width="1" height="15" fill="#d4dae2"/><rect x="540" y="944" width="1" height="15" fill="#d4dae2"/><rect x="579" y="944" width="1" height="15" fill="#d4dae2"/><text x="35.5" y="955" font-size="12.5" fill="#fff" text-anchor="middle" font-weight="500">指标</text><text x="76" y="955" font-size="12" fill="#1c2533" text-anchor="middle" font-weight="500">模板</text><text x="133.2" y="955" font-size="12.5" fill="#ff7000" text-anchor="middle" font-weight="500">指标</text><text x="559.5" y="955" font-size="12" fill="#1c2533" text-anchor="middle" font-weight="500">设置</text><text x="104.2" y="954.8" font-size="11.6" fill="#ff7000" textLength="17.5" lengthAdjust="spacingAndGlyphs" style="font-family:&quot;Liberation Serif&quot;">VIP</text><text x="161.7" y="954.8" font-size="11.6" fill="#1c2533" textLength="12" lengthAdjust="spacingAndGlyphs" style="font-family:&quot;Liberation Serif&quot;">MA</text><text x="189.6" y="954.8" font-size="11.6" fill="#1c2533" textLength="24" lengthAdjust="spacingAndGlyphs" style="font-family:&quot;Liberation Serif&quot;">MACD</text><text x="229.7" y="954.8" font-size="11.6" fill="#1c2533" textLength="24.5" lengthAdjust="spacingAndGlyphs" style="font-family:&quot;Liberation Serif&quot;">BOLL</text><text x="269.7" y="954.8" font-size="11.6" fill="#1c2533" textLength="18.5" lengthAdjust="spacingAndGlyphs" style="font-family:&quot;Liberation Serif&quot;">VOL</text><text x="303.9" y="954.8" font-size="11.6" fill="#1c2533" textLength="23.3" lengthAdjust="spacingAndGlyphs" style="font-family:&quot;Liberation Serif&quot;">BIAS</text><text x="343.2" y="954.8" font-size="11.6" fill="#1c2533" textLength="17.6" lengthAdjust="spacingAndGlyphs" style="font-family:&quot;Liberation Serif&quot;">CCI</text><text x="377.3" y="954.8" font-size="11.6" fill="#1c2533" textLength="18.2" lengthAdjust="spacingAndGlyphs" style="font-family:&quot;Liberation Serif&quot;">KDJ</text><text x="411.4" y="954.8" font-size="11.6" fill="#1c2533" textLength="19.7" lengthAdjust="spacingAndGlyphs" style="font-family:&quot;Liberation Serif&quot;">LW&amp;</text><text x="451.5" y="954.8" font-size="11.6" fill="#1c2533" textLength="18.2" lengthAdjust="spacingAndGlyphs" style="font-family:&quot;Liberation Serif&quot;">RSI</text><text x="485.6" y="954.8" font-size="11.6" fill="#1c2533" textLength="12.3" lengthAdjust="spacingAndGlyphs" style="font-family:&quot;Liberation Serif&quot;">CR</text><text x="513.8" y="954.8" font-size="11.6" fill="#1c2533" textLength="18.2" lengthAdjust="spacingAndGlyphs" style="font-family:&quot;Liberation Serif&quot;">PSY</text><rect x="55" y="944" width="1" height="15" fill="#d4dae2"/><rect x="0" y="968" width="876" height="2" fill="#d0d6de"/><rect x="42" y="970" width="1" height="5" fill="#d0d6de"/><text x="8" y="983" font-size="12" fill="#1c2533">资讯</text><rect x="739" y="960" width="137" height="8" fill="#b5b4ba"/><path d="M817.5 966.6 L829 961 L840.5 966.6 Z" fill="#58585c"/></svg></body></html>
